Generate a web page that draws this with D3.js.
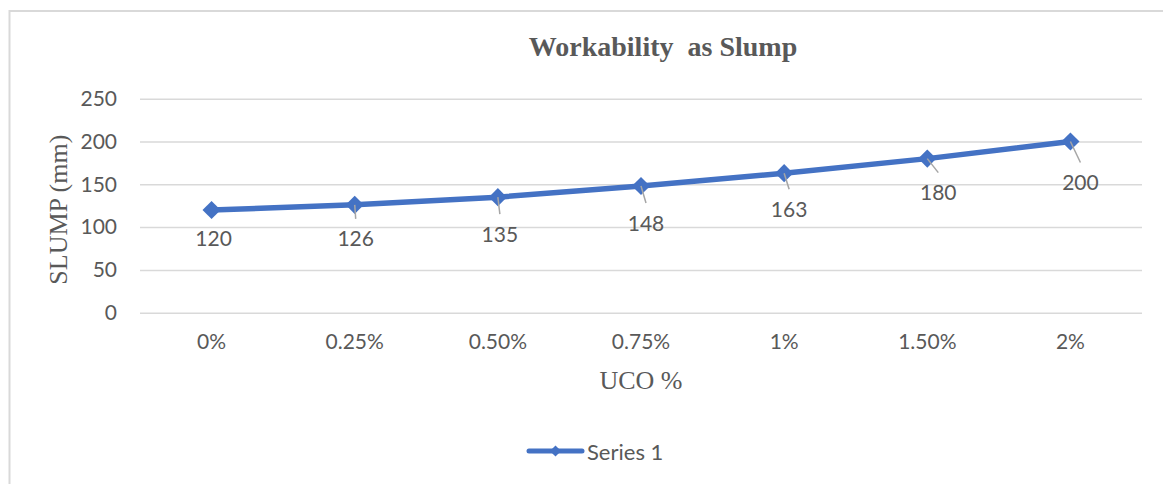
<!DOCTYPE html>
<html>
<head>
<meta charset="utf-8">
<script src="https://cdn.jsdelivr.net/npm/d3@7"></script>
<style>
  html, body { margin:0; padding:0; background:#fff; }
  #chartContainer { width:1163px; height:484px; }
</style>
</head>
<body>
<div id="chartContainer"></div>
<script>
/* ---------------- DATA ---------------- */
const categories = ["0%","0.25%","0.50%","0.75%","1%","1.50%","2%"];
const slump = [120,126,135,148,163,180,200];
const yTicks = [0,50,100,150,200,250];
const seriesName = "Series 1";
const chartTitle = "Workability\u00a0\u00a0as Slump";
const xTitle = "UCO %";
const yTitle = "SLUMP (mm)";

function slumpChart() {

    const data = categories.map((c,i) => ({cat:c, v:slump[i]}));

    const width = 1163, height = 484;
    const plot = {left:140, right:1142, top:98.7, bottom:312.7};

    const textCol = "#595959";
    const sans = "Lato, 'Open Sans', sans-serif";
    const serif = "'Liberation Serif', 'DejaVu Serif', serif";
    const blue = "#4472c4";

    // hand placed data labels, as in the original sheet
    const labelOffsets = [[2,28],[1,33],[2,36],[5,36],[5,35],[11,33],[10,40]];

    const svg = d3.select("#chartContainer").append("svg")
        .attr("width",width)
        .attr("height",height)
        .style("background","#fff");

    /* ---------------- FRAME ---------------- */
    svg.append("rect")
        .attr("x",9.5).attr("y",11)
        .attr("width",1300).attr("height",600)
        .attr("fill","none")
        .attr("stroke","#d9d9d9")
        .attr("stroke-width",2);

    /* ---------------- SCALES ---------------- */
    const x = d3.scaleBand()
        .domain(categories)
        .range([plot.left,plot.right])
        .padding(0);

    const y = d3.scaleLinear()
        .domain([0,250])
        .range([plot.bottom,plot.top]);

    const cx = d => x(d.cat) + x.bandwidth()/2;

    /* ---------------- GRID + AXES ---------------- */
    const yAxis = svg.append("g")
        .attr("transform",`translate(${plot.left},0)`)
        .call(d3.axisLeft(y).tickValues(yTicks)
            .tickSize(-(plot.right-plot.left)).tickPadding(23));
    yAxis.select(".domain").remove();
    yAxis.selectAll(".tick line")
        .attr("stroke","#d9d9d9").attr("stroke-width",1.5);
    yAxis.selectAll("text")
        .style("fill",textCol).style("font-family",sans).style("font-size","21px");

    const xAxis = svg.append("g")
        .attr("transform",`translate(0,${plot.bottom})`)
        .call(d3.axisBottom(x).tickSize(0).tickPadding(21));
    xAxis.select(".domain").remove();
    xAxis.selectAll("text")
        .style("fill",textCol).style("font-family",sans).style("font-size","21px");

    /* ---------------- LINE ---------------- */
    const line = d3.line()
        .x(cx)
        .y(d=>y(d.v));

    svg.append("path")
        .datum(data)
        .attr("fill","none")
        .attr("stroke",blue)
        .attr("stroke-width",5.5)
        .attr("stroke-linejoin","round")
        .attr("d",line);

    const diamond = d3.symbol(d3.symbolDiamond2, 210);
    svg.selectAll(".pt")
        .data(data)
        .join("path")
        .attr("class","pt")
        .attr("transform",d=>`translate(${cx(d)},${y(d.v)})`)
        .attr("fill",blue)
        .attr("d",diamond);

    /* ---------------- DATA LABELS ---------------- */
    data.forEach((d,i) => {
        const px = cx(d), py = y(d.v);
        const lx = px + labelOffsets[i][0];
        const ly = py + labelOffsets[i][1];
        const ex = lx, ey = ly - 19;
        if (Math.hypot(ex-px, ey-py) > 12) {
            svg.append("line")
                .attr("x1",px).attr("y1",py)
                .attr("x2",ex).attr("y2",ey)
                .attr("stroke","#a6a6a6")
                .attr("stroke-width",1.5);
        }
        svg.append("text")
            .attr("x",lx).attr("y",ly)
            .attr("text-anchor","middle")
            .attr("dominant-baseline","central")
            .style("fill",textCol).style("font-family",sans).style("font-size","21px")
            .text(d.v);
    });

    /* ---------------- TITLES ---------------- */
    svg.append("text")
        .attr("x",663).attr("y",56)
        .attr("text-anchor","middle")
        .style("fill",textCol).style("font-family",serif)
        .style("font-weight","700").style("font-size","28px")
        .text(chartTitle);

    svg.append("text")
        .attr("x",(plot.left+plot.right)/2).attr("y",389)
        .attr("text-anchor","middle")
        .style("fill",textCol).style("font-family",serif).style("font-size","26px")
        .text(xTitle);

    svg.append("text")
        .attr("transform",`translate(58,${(plot.top+plot.bottom)/2 + 4}) rotate(-90)`)
        .attr("text-anchor","middle")
        .attr("dominant-baseline","central")
        .style("fill",textCol).style("font-family",serif).style("font-size","26px")
        .text(yTitle);

    /* ---------------- LEGEND ---------------- */
    const leg = svg.append("g").attr("transform","translate(529,451)");
    leg.append("line")
        .attr("x1",0).attr("x2",53)
        .attr("stroke",blue).attr("stroke-width",5)
        .attr("stroke-linecap","round");
    leg.append("path")
        .attr("transform","translate(26.5,0)")
        .attr("fill",blue)
        .attr("d",d3.symbol(d3.symbolDiamond2, 80));
    leg.append("text")
        .attr("x",58).attr("y",0)
        .attr("dominant-baseline","central")
        .style("fill",textCol).style("font-family",sans).style("font-size","22px")
        .text(seriesName);
}

slumpChart();
</script>
</body>
</html>
